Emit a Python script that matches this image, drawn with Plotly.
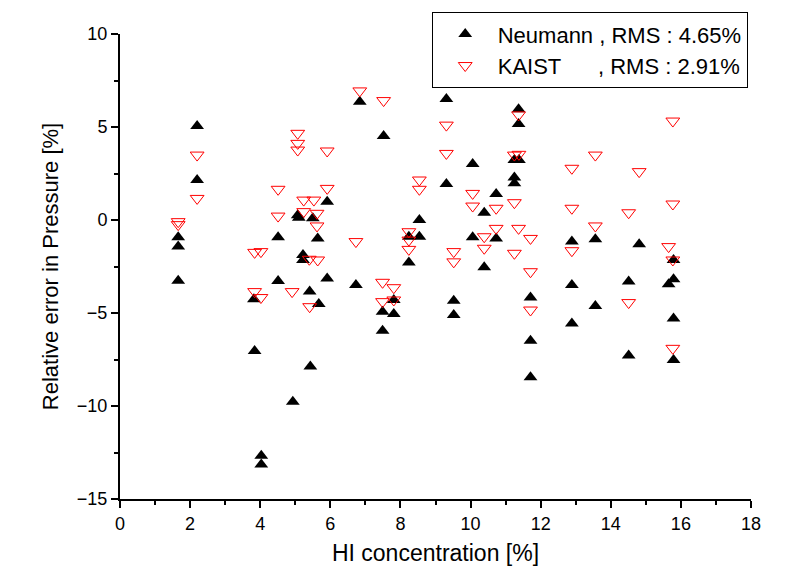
import plotly.graph_objects as go

# Neumann series (HI concentration %, relative error %)
neumann_x = [1.66, 1.66, 1.66, 2.2, 2.2, 3.82, 3.84, 4.03, 4.03, 4.51, 4.51, 4.93,
             5.07, 5.1, 5.22, 5.22, 5.5, 5.41, 5.64, 5.67, 5.43, 5.91, 5.91, 6.73,
             6.84, 7.52, 7.49, 7.49, 7.81, 7.81, 8.54, 8.54, 8.24, 8.24, 9.31, 9.31,
             9.52, 9.52, 10.06, 10.06, 10.39, 10.39, 10.73, 10.73, 11.25, 11.25,
             11.25, 11.38, 11.37, 11.37, 11.71, 11.71, 11.71, 12.89, 12.89, 12.89,
             13.56, 13.56, 14.51, 14.51, 14.81, 15.65, 15.79, 15.79, 15.79, 15.79]
neumann_y = [-0.93, -1.43, -3.26, 5.05, 2.15, -4.26, -7.04, -12.67, -13.14, -0.93, -3.28, -9.77,
             0.25, 0.12, -1.88, -2.15, 0.09, -3.85, -0.99, -4.52, -7.88, 0.98, -3.14, -3.49,
             6.36, 4.52, -4.93, -5.95, -4.3, -5.05, 0.0, -0.9, -0.9, -2.29, 6.5, 1.93,
             -4.34, -5.11, 3.01, -0.93, 0.39, -2.54, 1.4, -0.99, 2.29, 1.97,
             3.23, 3.23, 5.95, 5.16, -4.17, -6.49, -8.46, -1.16, -3.49, -5.56,
             -1.04, -4.62, -3.31, -7.28, -1.31, -3.46, -3.19, -2.15, -5.29, -7.53]

# KAIST series
kaist_x = [1.66, 1.66, 2.2, 2.2, 3.84, 4.02, 3.84, 4.02, 4.51, 4.51, 4.91,
           5.07, 5.07, 5.07, 5.24, 5.53, 5.24, 5.62, 5.62, 5.4, 5.64, 5.41,
           5.91, 5.91, 6.73, 6.84, 7.52, 7.49, 7.49, 7.81, 7.81, 8.54, 8.54,
           8.24, 8.24, 8.24, 9.31, 9.31, 9.52, 9.52, 10.06, 10.06, 10.39, 10.39,
           10.73, 10.73, 11.25, 11.38, 11.37, 11.25, 11.37, 11.25, 11.71, 11.71, 11.71,
           12.89, 12.89, 12.89, 13.56, 13.56, 14.51, 14.51, 14.81, 15.65, 15.77,
           15.77, 15.77, 15.77]
kaist_y = [-0.09, -0.25, 3.49, 1.16, -1.74, -1.7, -3.85, -4.17, 1.65, 0.21, -3.85,
           4.66, 4.12, 3.76, 1.07, 1.07, 0.45, 0.36, -0.32, -2.11, -2.15, -4.66,
           3.71, 1.7, -1.16, 6.94, 6.42, -3.35, -4.39, -3.64, -4.3, 2.15, 1.65,
           -0.63, -1.08, -1.58, 5.1, 3.58, -1.7, -2.25, 1.43, 0.75, -0.9, -1.52,
           0.63, -0.45, 3.49, 3.53, 5.65, 0.93, -0.45, -1.79, -0.99, -2.78, -4.84,
           2.78, 0.63, -1.65, 3.49, -0.32, 0.39, -4.44, 2.6, -1.43, 5.32,
           0.86, -2.15, -6.9]

neumann_name = "Neumann , RMS : 4.65%"
kaist_name = "KAIST\u00a0\u00a0\u00a0\u00a0\u00a0\u00a0, RMS : 2.91%"

x_ticks = [0, 2, 4, 6, 8, 10, 12, 14, 16, 18]
y_ticks = [-15, -10, -5, 0, 5, 10]

fig = go.Figure()
fig.add_trace(go.Scatter(
    x=neumann_x, y=neumann_y, mode="markers", name=neumann_name,
    marker=dict(symbol="triangle-up", size=12, color="black",
                line=dict(width=0))))
fig.add_trace(go.Scatter(
    x=kaist_x, y=kaist_y, mode="markers", name=kaist_name,
    marker=dict(symbol="triangle-down-open", size=12, color="#ff0000",
                line=dict(width=1, color="#ff0000"))))

font_family = "Liberation Sans, Arial, sans-serif"
axis_common = dict(
    showline=True, linecolor="black", linewidth=2, mirror=False,
    showgrid=False, zeroline=False,
    ticks="outside", ticklen=7, tickwidth=2, tickcolor="black",
    tickfont=dict(family=font_family, size=18, color="black"),
)

# page body has an 8px default margin; figure sized to fit the window
fig.update_layout(
    width=779, height=577,
    paper_bgcolor="white", plot_bgcolor="white",
    margin=dict(l=112, r=36, t=26, b=86, autoexpand=False),
    font=dict(family=font_family, color="black"),
    xaxis=dict(range=[0, 18], tickvals=x_ticks,
               minor=dict(dtick=1, ticks="outside", ticklen=4, tickwidth=2, tickcolor="black"),
               title=dict(text="HI concentration [%]", font=dict(size=23), standoff=12),
               **axis_common),
    yaxis=dict(range=[-15, 10], tickvals=y_ticks,
               minor=dict(dtick=2.5, ticks="outside", ticklen=4, tickwidth=2, tickcolor="black"),
               title=dict(text="Relative error in Pressure [%]", font=dict(size=22), standoff=12),
               **axis_common),
    legend=dict(x=0.494, y=1.047, xanchor="left", yanchor="top",
                bordercolor="black", borderwidth=1, bgcolor="white",
                itemwidth=55,
                font=dict(family=font_family, size=22, color="black")),
    showlegend=True,
)

fig.write_html("out.html")
